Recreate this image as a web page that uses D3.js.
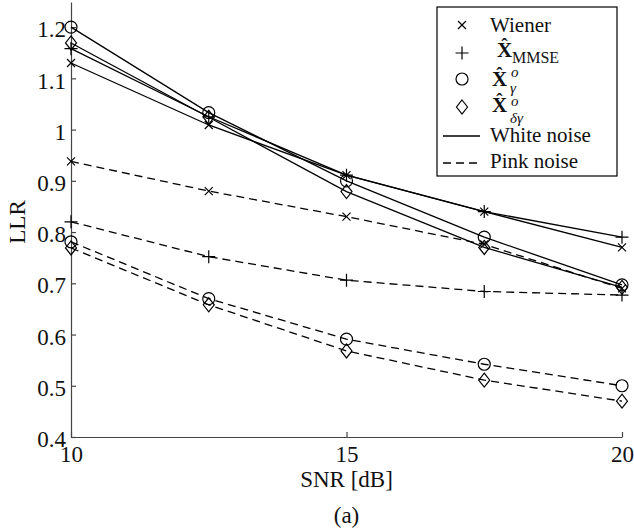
<!DOCTYPE html>
<html>
<head>
<meta charset="utf-8">
<script src="https://cdn.jsdelivr.net/npm/d3@7"></script>
<style>
  body { margin: 0; background: #fff; }
  svg { display: block; }
  text { font-family: "Liberation Serif", "Times New Roman", serif; fill: #111; }
</style>
</head>
<body>
<div id="chart-area"></div>
<script>
// LLR vs SNR, white and pink noise

var snr = [10, 12.5, 15, 17.5, 20];

// white noise (solid)
var whiteWiener = [1.13, 1.009, 0.911, 0.84, 0.77];
var whiteMmse = [1.158, 1.025, 0.911, 0.84, 0.79];
var whiteGamma = [1.20, 1.033, 0.90, 0.79, 0.697];
var whiteDeltaGamma = [1.169, 1.024, 0.879, 0.77, 0.692];

// pink noise (dashed)
var pinkWiener = [0.938, 0.88, 0.83, 0.776, 0.69];
var pinkMmse = [0.82, 0.752, 0.706, 0.684, 0.677];
var pinkGamma = [0.781, 0.67, 0.591, 0.542, 0.50];
var pinkDeltaGamma = [0.769, 0.658, 0.568, 0.511, 0.47];

var xTicks = [10, 15, 20];
var yTicks = [0.4, 0.5, 0.6, 0.7, 0.8, 0.9, 1, 1.1, 1.2];

var margin = { left: 71, right: 12, top: 2, bottom: 92 };
var width = 634 - margin.left - margin.right,
    height = 529 - margin.top - margin.bottom;

var svg = d3.select("#chart-area")
    .append("svg")
        .attr("width", 634)
        .attr("height", 529);

var g = svg.append("g")
        .attr("transform", "translate(" + margin.left + ", " + margin.top + ")");

var x_scale = d3.scaleLinear()
    .domain([10, 20])
    .range([0, width]);

var y_scale = d3.scaleLinear()
    .domain([0.4, 1.249])
    .range([height, 0]);

// markers
var markerPath = {
    x: "M-4,-4L4,4M-4,4L4,-4",
    plus: "M-6.5,0H6.5M0,-6.5V6.5",
    circle: "M6,0A6,6 0 1,1 -6,0A6,6 0 1,1 6,0Z",
    diamond: "M0,-7L5.5,0L0,7L-5.5,0Z"
};

var series = [
    { values: whiteWiener, marker: "x", dash: null },
    { values: whiteMmse, marker: "plus", dash: null },
    { values: whiteGamma, marker: "circle", dash: null },
    { values: whiteDeltaGamma, marker: "diamond", dash: null },
    { values: pinkWiener, marker: "x", dash: "8,5" },
    { values: pinkMmse, marker: "plus", dash: "8,5" },
    { values: pinkGamma, marker: "circle", dash: "8,5" },
    { values: pinkDeltaGamma, marker: "diamond", dash: "8,5" }
];

// X-Axis
var xAxisCall = d3.axisBottom(x_scale)
    .tickValues(xTicks)
    .tickSizeInner(-5)
    .tickSizeOuter(0)
    .tickPadding(8)
    .tickFormat(function(d){ return String(d); });
var xAxis = g.append("g")
    .attr("class", "x-axis")
    .attr("transform", "translate(0, " + height + ")")
    .call(xAxisCall);

// Y-Axis
var yAxisCall = d3.axisLeft(y_scale)
    .tickValues(yTicks)
    .tickSizeInner(-5)
    .tickSizeOuter(0)
    .tickPadding(5)
    .tickFormat(function(d){ return String(d); });
var yAxis = g.append("g")
    .attr("class", "y-axis")
    .call(yAxisCall);

g.selectAll(".x-axis path, .y-axis path, .x-axis line, .y-axis line")
    .attr("stroke", "#444")
    .attr("stroke-width", 1.2);
xAxis.selectAll("text")
    .style("font-family", "'Liberation Serif', serif")
    .style("font-size", "23px")
    .attr("fill", "#111")
    .attr("dy", "0.71em")
    .attr("y", 9);
yAxis.selectAll("text")
    .style("font-family", "'Liberation Serif', serif")
    .style("font-size", "23px")
    .attr("fill", "#111")
    .attr("dy", "0.42em");

// lines
var line = d3.line()
    .x(function(d, i){ return x_scale(snr[i]); })
    .y(function(d){ return y_scale(d); });

series.forEach(function(s){
    g.append("path")
        .attr("d", line(s.values))
        .attr("fill", "none")
        .attr("stroke", "#000")
        .attr("stroke-width", 1.3)
        .attr("stroke-dasharray", s.dash);
});

series.forEach(function(s){
    g.selectAll(null)
        .data(s.values)
        .enter()
        .append("path")
            .attr("d", markerPath[s.marker])
            .attr("transform", function(d, i){
                return "translate(" + x_scale(snr[i]) + "," + y_scale(d) + ")";
            })
            .attr("fill", "none")
            .attr("stroke", "#000")
            .attr("stroke-width", 1.2);
});

// X Label
svg.append("text")
    .attr("x", margin.left + width / 2)
    .attr("y", 487)
    .attr("font-size", "23px")
    .attr("text-anchor", "middle")
    .text("SNR [dB]");

svg.append("text")
    .attr("x", margin.left + width / 2)
    .attr("y", 523)
    .attr("font-size", "23px")
    .attr("text-anchor", "middle")
    .text("(a)");

// Y Label
svg.append("text")
    .attr("transform", "translate(25, 222) rotate(-90)")
    .attr("font-size", "23px")
    .attr("text-anchor", "middle")
    .text("LLR");

// Legend
var legend = svg.append("g").attr("class", "legend");
legend.append("rect")
    .attr("x", 437).attr("y", 7)
    .attr("width", 180).attr("height", 169)
    .attr("fill", "#fff")
    .attr("stroke", "#000")
    .attr("stroke-width", 1.2);

var legendMarkers = [
    { marker: "x", y: 25 },
    { marker: "plus", y: 53 },
    { marker: "circle", y: 79 },
    { marker: "diamond", y: 107 }
];
legendMarkers.forEach(function(m){
    legend.append("path")
        .attr("d", markerPath[m.marker])
        .attr("transform", "translate(462," + m.y + ")")
        .attr("fill", "none")
        .attr("stroke", "#000")
        .attr("stroke-width", 1.2);
});

legend.append("text")
    .attr("x", 490).attr("y", 32)
    .attr("font-size", "21px")
    .text("Wiener");

// bold X with hat, plus sub/superscripts
function hatX(x, baseline){
    legend.append("text")
        .attr("x", x).attr("y", baseline)
        .attr("font-size", "21px")
        .attr("font-weight", "bold")
        .text("X");
    legend.append("text")
        .attr("x", x + 7.5).attr("y", baseline - 6)
        .attr("font-size", "19px")
        .attr("font-weight", "bold")
        .attr("text-anchor", "middle")
        .text("\u02C6");
}

hatX(497, 57);
legend.append("text")
    .attr("x", 512).attr("y", 63)
    .attr("font-size", "16px")
    .text("MMSE");

hatX(492, 86);
legend.append("text")
    .attr("x", 511).attr("y", 77)
    .attr("font-size", "15px")
    .attr("font-style", "italic")
    .text("o");
legend.append("text")
    .attr("x", 510).attr("y", 93)
    .attr("font-size", "15px")
    .attr("font-style", "italic")
    .text("\u03B3");

hatX(492, 112);
legend.append("text")
    .attr("x", 511).attr("y", 106)
    .attr("font-size", "15px")
    .attr("font-style", "italic")
    .text("o");
legend.append("text")
    .attr("x", 510).attr("y", 123)
    .attr("font-size", "15px")
    .attr("font-style", "italic")
    .text("\u03B4\u03B3");

legend.append("line")
    .attr("x1", 443).attr("x2", 480)
    .attr("y1", 136).attr("y2", 136)
    .attr("stroke", "#000").attr("stroke-width", 1.3);
legend.append("text")
    .attr("x", 490).attr("y", 142)
    .attr("font-size", "21px")
    .text("White noise");

legend.append("line")
    .attr("x1", 443).attr("x2", 481)
    .attr("y1", 163).attr("y2", 163)
    .attr("stroke", "#000").attr("stroke-width", 1.3)
    .attr("stroke-dasharray", "8,5");
legend.append("text")
    .attr("x", 490).attr("y", 168)
    .attr("font-size", "21px")
    .text("Pink noise");
</script>
</body>
</html>
